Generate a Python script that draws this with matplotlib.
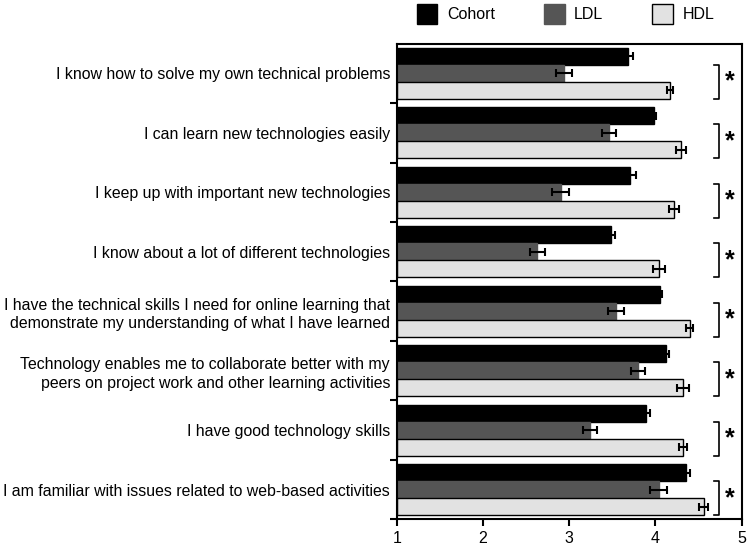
import numpy as np
import matplotlib
matplotlib.use("Agg")
import matplotlib.pyplot as plt
from matplotlib.patches import Patch

plt.rcParams['font.family'] = ['Liberation Sans', 'DejaVu Sans']

# statements, top to bottom
labels = [
    "I know how to solve my own technical problems",
    "I can learn new technologies easily",
    "I keep up with important new technologies",
    "I know about a lot of different technologies",
    "I have the technical skills I need for online learning that\ndemonstrate my understanding of what I have learned",
    "Technology enables me to collaborate better with my\npeers on project work and other learning activities",
    "I have good technology skills",
    "I am familiar with issues related to web-based activities",
]
series = ["Cohort", "LDL", "HDL"]
cohort = [3.68, 3.98, 3.70, 3.48, 4.05, 4.12, 3.89, 4.35]
cohort_err = [0.06, 0.03, 0.07, 0.05, 0.03, 0.04, 0.05, 0.05]
ldl = [2.94, 3.46, 2.90, 2.63, 3.54, 3.80, 3.24, 4.04]
ldl_err = [0.09, 0.08, 0.10, 0.09, 0.09, 0.085, 0.085, 0.10]
hdl = [4.17, 4.30, 4.22, 4.04, 4.40, 4.32, 4.32, 4.56]
hdl_err = [0.04, 0.06, 0.06, 0.07, 0.04, 0.07, 0.05, 0.05]
signif = ["*"] * 8

colors = ["#000000", "#555555", "#e2e2e2"]

fig = plt.figure(figsize=(7.49, 5.45), dpi=100)
ax = fig.add_axes([0.530, 0.047, 0.460, 0.873])

y = np.arange(len(labels))
h = 0.285
for k, (vals, errs) in enumerate([(cohort, cohort_err), (ldl, ldl_err), (hdl, hdl_err)]):
    ax.barh(y + (k - 1) * h, np.array(vals) - 1, height=h, left=1,
            color=colors[k], edgecolor="black" if k == 2 else colors[k], linewidth=1.0,
            xerr=errs, error_kw=dict(ecolor="black", elinewidth=1.5, capsize=3, capthick=1.5))

# significance brackets between LDL and HDL
for i, s in enumerate(signif):
    y0 = i - h / 2
    y1 = i + 1.5 * h
    ax.plot([4.68, 4.74, 4.74, 4.68], [y0, y0, y1, y1], color="black", lw=1.2)
    ax.text(4.86, (y0 + y1) / 2, s, ha="center", va="center", fontsize=18, fontweight="bold")

ax.set_xlim(1, 5)
ax.set_ylim(7.47, -0.5)
ax.set_xticks([1, 2, 3, 4, 5])
ax.set_yticks(y)
ax.set_yticklabels(labels, fontsize=11.45, linespacing=1.3)
ax.set_yticks(np.arange(len(labels)) + 0.5, minor=True)
ax.tick_params(axis="y", which="major", length=0, pad=5)
ax.tick_params(axis="y", which="minor", length=5, width=1.5)
ax.tick_params(axis="x", length=5, width=1.5, labelsize=11.5)
for sp in ax.spines.values():
    sp.set_linewidth(1.5)

handles = [Patch(facecolor=c, edgecolor="black" if i == 2 else c, linewidth=1.0)
           for i, c in enumerate(colors)]
fig.legend(handles, series, loc="center", bbox_to_anchor=(0.755, 0.974), ncol=3,
           frameon=False, fontsize=11.5, handlelength=1.3, handleheight=1.6,
           columnspacing=3.05, handletextpad=0.6)

fig.savefig("out.png", dpi=100)
